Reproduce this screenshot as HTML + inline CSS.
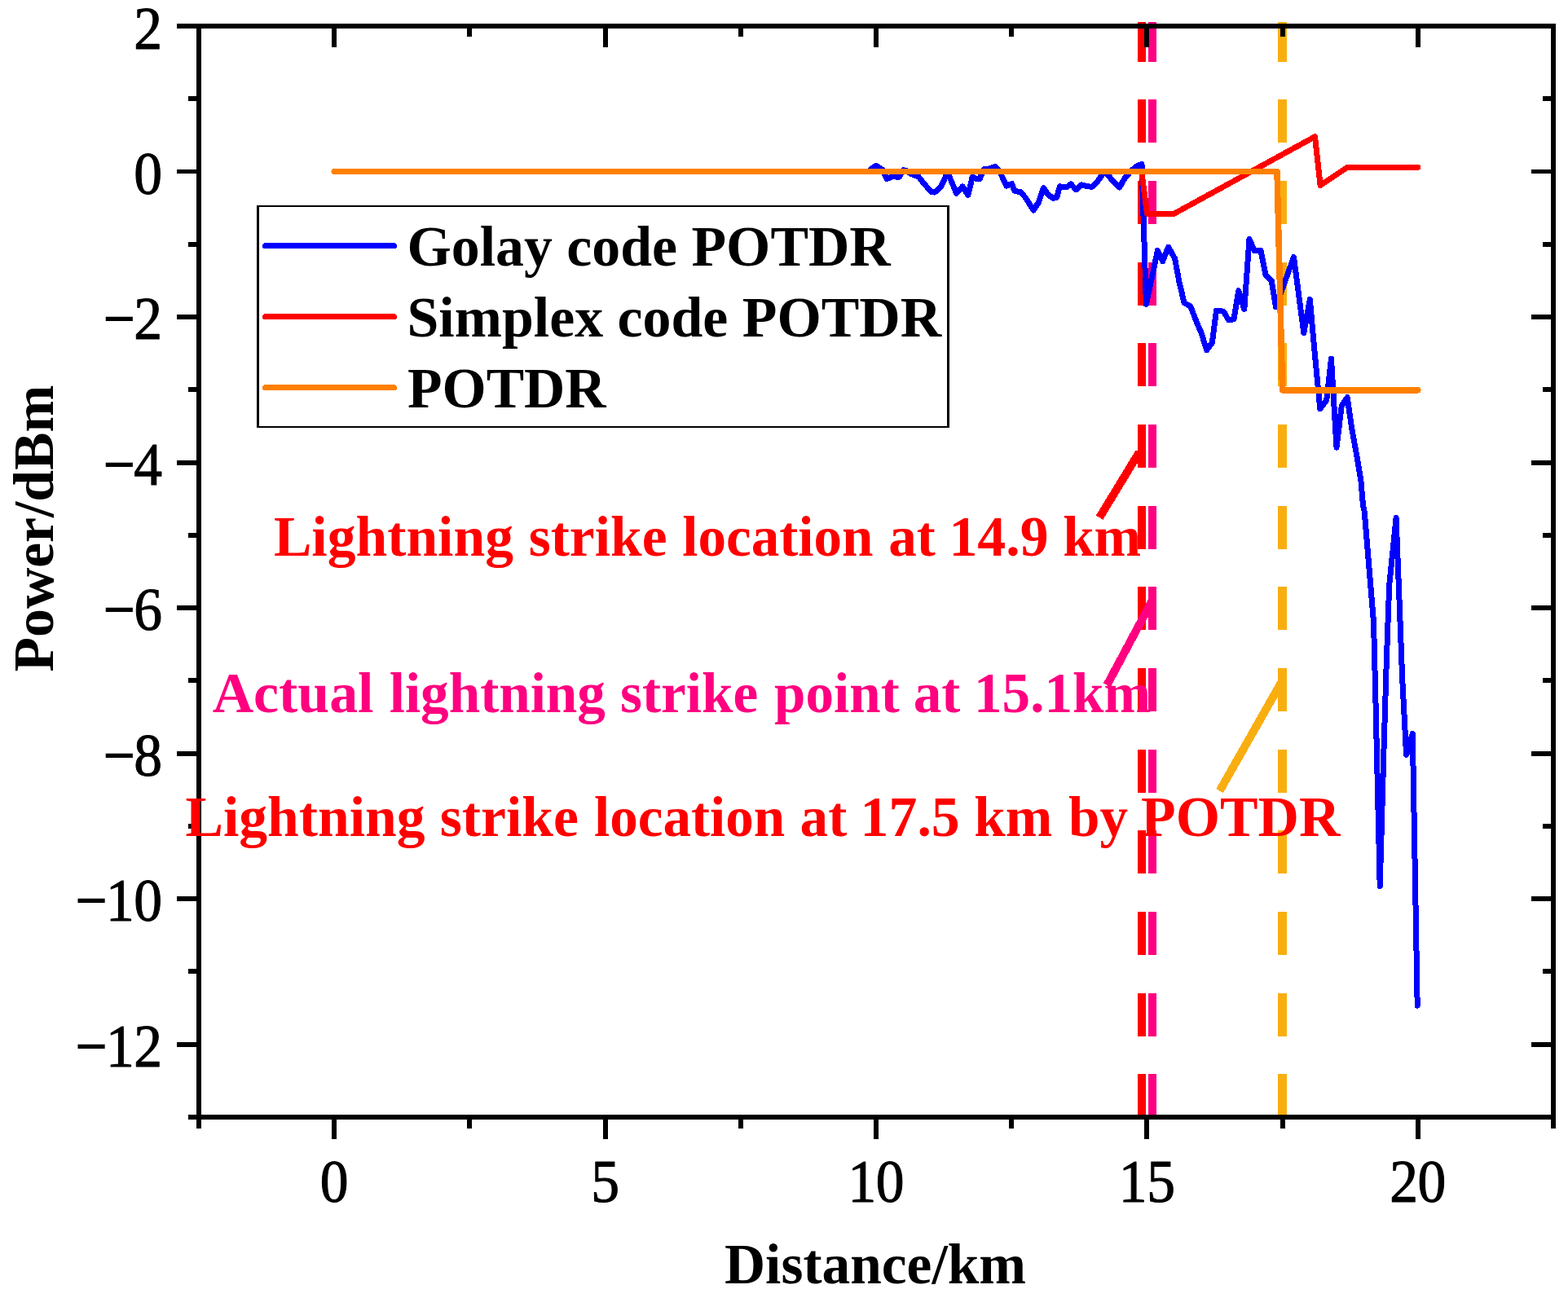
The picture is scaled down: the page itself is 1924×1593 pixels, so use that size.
<!DOCTYPE html>
<html lang="en"><head><meta charset="utf-8"><title>POTDR lightning strike location</title>
<style>
html,body{margin:0;padding:0;background:#fff;}
body{width:1924px;height:1593px;overflow:hidden;}
svg{display:block;}
.b{font-family:"Liberation Serif","Times New Roman",serif;font-weight:bold;}
.n{font-family:"Liberation Serif","Times New Roman",serif;font-weight:normal;}
</style></head><body>
<svg width="1924" height="1593" viewBox="0 0 1924 1593">
<rect x="0" y="0" width="1924" height="1593" fill="#ffffff"/>
<g shape-rendering="crispEdges">
<rect x="1396" y="27" width="10" height="49" fill="#ff0000"/>
<rect x="1396" y="122" width="10" height="53" fill="#ff0000"/>
<rect x="1396" y="222" width="10" height="53" fill="#ff0000"/>
<rect x="1396" y="322" width="10" height="53" fill="#ff0000"/>
<rect x="1396" y="421" width="10" height="53" fill="#ff0000"/>
<rect x="1396" y="521" width="10" height="53" fill="#ff0000"/>
<rect x="1396" y="621" width="10" height="53" fill="#ff0000"/>
<rect x="1396" y="720" width="10" height="53" fill="#ff0000"/>
<rect x="1396" y="820" width="10" height="53" fill="#ff0000"/>
<rect x="1396" y="920" width="10" height="53" fill="#ff0000"/>
<rect x="1396" y="1019" width="10" height="53" fill="#ff0000"/>
<rect x="1396" y="1119" width="10" height="53" fill="#ff0000"/>
<rect x="1396" y="1219" width="10" height="53" fill="#ff0000"/>
<rect x="1396" y="1318" width="10" height="53" fill="#ff0000"/>
<rect x="1409" y="27" width="10" height="49" fill="#ff0080"/>
<rect x="1409" y="122" width="10" height="53" fill="#ff0080"/>
<rect x="1409" y="222" width="10" height="53" fill="#ff0080"/>
<rect x="1409" y="322" width="10" height="53" fill="#ff0080"/>
<rect x="1409" y="421" width="10" height="53" fill="#ff0080"/>
<rect x="1409" y="521" width="10" height="53" fill="#ff0080"/>
<rect x="1409" y="621" width="10" height="53" fill="#ff0080"/>
<rect x="1409" y="720" width="10" height="53" fill="#ff0080"/>
<rect x="1409" y="820" width="10" height="53" fill="#ff0080"/>
<rect x="1409" y="920" width="10" height="53" fill="#ff0080"/>
<rect x="1409" y="1019" width="10" height="53" fill="#ff0080"/>
<rect x="1409" y="1119" width="10" height="53" fill="#ff0080"/>
<rect x="1409" y="1219" width="10" height="53" fill="#ff0080"/>
<rect x="1409" y="1318" width="10" height="53" fill="#ff0080"/>
<rect x="1568" y="27" width="11" height="49" fill="#f9ae10"/>
<rect x="1568" y="122" width="11" height="53" fill="#f9ae10"/>
<rect x="1568" y="222" width="11" height="53" fill="#f9ae10"/>
<rect x="1568" y="322" width="11" height="53" fill="#f9ae10"/>
<rect x="1568" y="421" width="11" height="53" fill="#f9ae10"/>
<rect x="1568" y="521" width="11" height="53" fill="#f9ae10"/>
<rect x="1568" y="621" width="11" height="53" fill="#f9ae10"/>
<rect x="1568" y="720" width="11" height="53" fill="#f9ae10"/>
<rect x="1568" y="820" width="11" height="53" fill="#f9ae10"/>
<rect x="1568" y="920" width="11" height="53" fill="#f9ae10"/>
<rect x="1568" y="1019" width="11" height="53" fill="#f9ae10"/>
<rect x="1568" y="1119" width="11" height="53" fill="#f9ae10"/>
<rect x="1568" y="1219" width="11" height="53" fill="#f9ae10"/>
<rect x="1568" y="1318" width="11" height="53" fill="#f9ae10"/>
</g>
<polyline points="1067.4,208.6 1074.8,203.3 1083.2,208.6 1088.1,219.5 1092.1,218.3 1096.0,215.6 1099.5,217.1 1103.5,217.1 1108.4,208.6 1112.3,209.6 1118.3,213.6 1127.2,217.0 1133.1,224.4 1139.0,231.4 1143.0,235.5 1146.9,236.1 1154.8,228.9 1162.7,211.4 1173.6,237.3 1181.0,228.9 1187.9,239.3 1193.3,216.7 1197.8,219.5 1202.2,219.5 1207.1,207.7 1212.1,207.5 1221.5,204.5 1226.9,210.6 1234.8,228.2 1241.7,225.6 1244.9,234.3 1252.8,235.8 1258.8,243.2 1263.7,251.1 1268.1,258.0 1274.6,248.1 1280.5,230.6 1286.4,239.3 1292.3,243.2 1296.8,242.2 1300.4,228.6 1305.2,229.9 1309.1,229.4 1314.1,225.9 1320.5,232.8 1326.9,226.9 1332.8,228.4 1339.7,229.4 1346.7,222.5 1355.5,210.6 1363.4,219.5 1373.8,229.9 1380.2,218.5 1388.1,209.6 1395.0,203.7 1401.0,201.5 1406.4,373.4 1420.4,307.5 1426.6,320.7 1433.6,303.1 1441.5,317.1 1446.8,345.3 1453.0,371.6 1460.9,376.0 1467.9,394.5 1474.1,408.6 1480.6,429.7 1487.3,420.9 1492.5,381.3 1501.3,382.2 1507.5,392.7 1514.0,391.9 1519.8,356.7 1526.8,379.6 1533.0,293.4 1539.1,307.5 1547.0,307.5 1553.2,338.2 1560.2,344.4 1565.5,376.9 1587.5,315.4 1599.8,408.6 1607.3,367.3 1612.7,427.9 1619.8,501.8 1627.7,491.2 1633.5,440.2 1640.0,549.2 1646.2,498.2 1653.2,487.7 1658.5,524.6 1665.5,563.3 1669.9,589.7 1672.5,620.1 1674.2,627.8 1685.5,763.4 1687.8,853.8 1693.2,1087.5 1698.0,920.0 1701.4,808.6 1704.7,718.2 1713.1,635.7 1717.2,740.8 1720.6,831.2 1725.6,926.5 1733.3,900.3 1739.2,1234.2" fill="none" stroke="#0000ff" stroke-width="7" stroke-linejoin="round" stroke-linecap="round" shape-rendering="crispEdges"/>
<polyline points="1400.8,210.5 1407.4,262.3 1440.6,262.3 1613.5,167.7 1620.1,227.5 1653.4,205.2 1739.8,205.2" fill="none" stroke="#ff0000" stroke-width="7" stroke-linejoin="round" stroke-linecap="round" shape-rendering="crispEdges"/>
<polyline points="410.2,210.5 1567.0,210.5 1573.6,478.8 1739.8,478.8" fill="none" stroke="#ff8000" stroke-width="7.5" stroke-linejoin="round" stroke-linecap="round" shape-rendering="crispEdges"/>
<g fill="#000000" shape-rendering="crispEdges">
<rect x="241" y="29" width="6" height="1345"/>
<rect x="1903" y="29" width="6" height="1345"/>
<rect x="241" y="29" width="1668" height="6"/>
<rect x="241" y="1368" width="1668" height="6"/>
<rect x="217" y="29" width="24" height="6"/>
<rect x="1879" y="29" width="24" height="6"/>
<rect x="231" y="118" width="10" height="6"/>
<rect x="1893" y="118" width="10" height="6"/>
<rect x="217" y="208" width="24" height="5"/>
<rect x="1879" y="208" width="24" height="5"/>
<rect x="231" y="297" width="10" height="6"/>
<rect x="1893" y="297" width="10" height="6"/>
<rect x="217" y="386" width="24" height="6"/>
<rect x="1879" y="386" width="24" height="6"/>
<rect x="231" y="475" width="10" height="6"/>
<rect x="1893" y="475" width="10" height="6"/>
<rect x="217" y="565" width="24" height="6"/>
<rect x="1879" y="565" width="24" height="6"/>
<rect x="231" y="654" width="10" height="6"/>
<rect x="1893" y="654" width="10" height="6"/>
<rect x="217" y="743" width="24" height="6"/>
<rect x="1879" y="743" width="24" height="6"/>
<rect x="231" y="832" width="10" height="6"/>
<rect x="1893" y="832" width="10" height="6"/>
<rect x="217" y="922" width="24" height="6"/>
<rect x="1879" y="922" width="24" height="6"/>
<rect x="231" y="1011" width="10" height="6"/>
<rect x="1893" y="1011" width="10" height="6"/>
<rect x="217" y="1100" width="24" height="6"/>
<rect x="1879" y="1100" width="24" height="6"/>
<rect x="231" y="1189" width="10" height="6"/>
<rect x="1893" y="1189" width="10" height="6"/>
<rect x="217" y="1279" width="24" height="6"/>
<rect x="1879" y="1279" width="24" height="6"/>
<rect x="231" y="1368" width="10" height="6"/>
<rect x="1893" y="1368" width="10" height="6"/>
<rect x="241" y="1374" width="6" height="11"/>
<rect x="241" y="35" width="6" height="10"/>
<rect x="407" y="1374" width="6" height="24"/>
<rect x="407" y="35" width="6" height="23"/>
<rect x="573" y="1374" width="6" height="11"/>
<rect x="573" y="35" width="6" height="10"/>
<rect x="740" y="1374" width="6" height="24"/>
<rect x="740" y="35" width="6" height="23"/>
<rect x="906" y="1374" width="6" height="11"/>
<rect x="906" y="35" width="6" height="10"/>
<rect x="1072" y="1374" width="6" height="24"/>
<rect x="1072" y="35" width="6" height="23"/>
<rect x="1238" y="1374" width="6" height="11"/>
<rect x="1238" y="35" width="6" height="10"/>
<rect x="1404" y="1374" width="6" height="24"/>
<rect x="1404" y="35" width="6" height="23"/>
<rect x="1571" y="1374" width="6" height="11"/>
<rect x="1571" y="35" width="6" height="10"/>
<rect x="1737" y="1374" width="6" height="24"/>
<rect x="1737" y="35" width="6" height="23"/>
<rect x="1903" y="1374" width="6" height="11"/>
<rect x="1903" y="35" width="6" height="10"/>
</g>
<g shape-rendering="crispEdges">
<rect x="315" y="252" width="850" height="273" fill="#000000"/>
<rect x="318" y="254" width="844" height="269" fill="#ffffff"/>
<line x1="325.5" y1="301.5" x2="483.5" y2="301.5" stroke="#0000ff" stroke-width="7" stroke-linecap="round"/>
<line x1="325.5" y1="388.5" x2="483.5" y2="388.5" stroke="#ff0000" stroke-width="7" stroke-linecap="round"/>
<line x1="325.5" y1="475.5" x2="483.5" y2="475.5" stroke="#ff8000" stroke-width="7" stroke-linecap="round"/>
</g>
<text class="b" x="499.5" y="326" font-size="69.8" fill="#000000">Golay code POTDR</text>
<text class="b" x="499.5" y="412.6" font-size="69.85" fill="#000000">Simplex code POTDR</text>
<text class="b" x="500" y="500" font-size="69.6" fill="#000000">POTDR</text>
<g shape-rendering="crispEdges" stroke-width="10" stroke-linecap="butt">
<line x1="1349.1" y1="635.2" x2="1398.1" y2="554.7" stroke="#ff0000"/>
<line x1="1358.3" y1="840.9" x2="1414.2" y2="736.3" stroke="#ff0080"/>
<line x1="1496.6" y1="970.6" x2="1572.5" y2="836.9" stroke="#f9ae10"/>
</g>
<text class="b" y="682" fill="#ff0000" xml:space="preserve"><tspan x="335.9" font-size="69.64">Lightning </tspan><tspan x="648.7" font-size="69.48">strike </tspan><tspan x="837.3" font-size="69.10">location </tspan><tspan x="1090.3" font-size="69.10">at </tspan><tspan x="1164.4" font-size="69.80">14.9 </tspan><tspan x="1304.2" font-size="69.10">km</tspan></text>
<text class="b" y="873.6" fill="#ff0080" xml:space="preserve"><tspan x="260.7" font-size="69.80">Actual </tspan><tspan x="477.7" font-size="69.16">lightning </tspan><tspan x="761.0" font-size="69.19">strike </tspan><tspan x="950.1" font-size="69.10">point </tspan><tspan x="1120.7" font-size="69.19">at </tspan><tspan x="1195.0" font-size="69.17">15.1km</tspan></text>
<text class="b" y="1026" fill="#ff0000" xml:space="preserve"><tspan x="227.5" font-size="69.64">Lightning </tspan><tspan x="539.7" font-size="69.65">strike </tspan><tspan x="729.1" font-size="69.11">location </tspan><tspan x="981.6" font-size="69.10">at </tspan><tspan x="1055.6" font-size="69.80">17.5 </tspan><tspan x="1195.3" font-size="69.10">km </tspan><tspan x="1311.1" font-size="69.10">by </tspan><tspan x="1400.1" font-size="69.80">POTDR</tspan></text>
<text class="b" x="889" y="1575.4" font-size="69.4" fill="#000000">Distance/km</text>
<text class="b" font-size="69.6" fill="#000000" transform="translate(64.8,824.4) rotate(-90)">Power/dBm</text>
<g>
<text class="n" transform="translate(164.50,59.70) scale(0.945,1)" x="-0.20" y="0" font-size="73.6" fill="#000000" stroke="#000000" stroke-width="1.1" stroke-linejoin="round">2</text>
</g>
<g>
<text class="n" transform="translate(164.50,238.10) scale(0.945,1)" x="-0.20" y="0" font-size="73.6" fill="#000000" stroke="#000000" stroke-width="1.1" stroke-linejoin="round">0</text>
</g>
<g>
<text class="n" transform="translate(125.06,407.80) scale(1.835,1)" x="0" y="0" font-size="69.6" fill="#000000">-</text>
<text class="n" transform="translate(164.50,416.10) scale(0.945,1)" x="-0.20" y="0" font-size="73.6" fill="#000000" stroke="#000000" stroke-width="1.1" stroke-linejoin="round">2</text>
</g>
<g>
<text class="n" transform="translate(125.06,586.80) scale(1.835,1)" x="0" y="0" font-size="69.6" fill="#000000">-</text>
<text class="n" transform="translate(164.50,595.10) scale(0.945,1)" x="-0.20" y="0" font-size="73.6" fill="#000000" stroke="#000000" stroke-width="1.1" stroke-linejoin="round">4</text>
</g>
<g>
<text class="n" transform="translate(125.06,764.80) scale(1.835,1)" x="0" y="0" font-size="69.6" fill="#000000">-</text>
<text class="n" transform="translate(164.50,773.10) scale(0.945,1)" x="-0.20" y="0" font-size="73.6" fill="#000000" stroke="#000000" stroke-width="1.1" stroke-linejoin="round">6</text>
</g>
<g>
<text class="n" transform="translate(125.06,943.80) scale(1.835,1)" x="0" y="0" font-size="69.6" fill="#000000">-</text>
<text class="n" transform="translate(164.50,952.10) scale(0.945,1)" x="-0.20" y="0" font-size="73.6" fill="#000000" stroke="#000000" stroke-width="1.1" stroke-linejoin="round">8</text>
</g>
<g>
<text class="n" transform="translate(90.66,1121.80) scale(1.835,1)" x="0" y="0" font-size="69.6" fill="#000000">-</text>
<text class="n" transform="translate(130.10,1130.10) scale(0.945,1)" x="-0.20 36.20" y="0" font-size="73.6" fill="#000000" stroke="#000000" stroke-width="1.1" stroke-linejoin="round">10</text>
</g>
<g>
<text class="n" transform="translate(90.66,1300.80) scale(1.835,1)" x="0" y="0" font-size="69.6" fill="#000000">-</text>
<text class="n" transform="translate(130.10,1309.10) scale(0.945,1)" x="-0.20 36.20" y="0" font-size="73.6" fill="#000000" stroke="#000000" stroke-width="1.1" stroke-linejoin="round">12</text>
</g>
<g>
<text class="n" transform="translate(393.00,1474.70) scale(0.945,1)" x="-0.20" y="0" font-size="73.6" fill="#000000" stroke="#000000" stroke-width="1.1" stroke-linejoin="round">0</text>
</g>
<g>
<text class="n" transform="translate(725.40,1474.70) scale(0.945,1)" x="-0.20" y="0" font-size="73.6" fill="#000000" stroke="#000000" stroke-width="1.1" stroke-linejoin="round">5</text>
</g>
<g>
<text class="n" transform="translate(1040.60,1474.70) scale(0.945,1)" x="-0.20 36.20" y="0" font-size="73.6" fill="#000000" stroke="#000000" stroke-width="1.1" stroke-linejoin="round">10</text>
</g>
<g>
<text class="n" transform="translate(1373.00,1474.70) scale(0.945,1)" x="-0.20 36.20" y="0" font-size="73.6" fill="#000000" stroke="#000000" stroke-width="1.1" stroke-linejoin="round">15</text>
</g>
<g>
<text class="n" transform="translate(1705.40,1474.70) scale(0.945,1)" x="-0.20 36.20" y="0" font-size="73.6" fill="#000000" stroke="#000000" stroke-width="1.1" stroke-linejoin="round">20</text>
</g>
</svg>
</body></html>
